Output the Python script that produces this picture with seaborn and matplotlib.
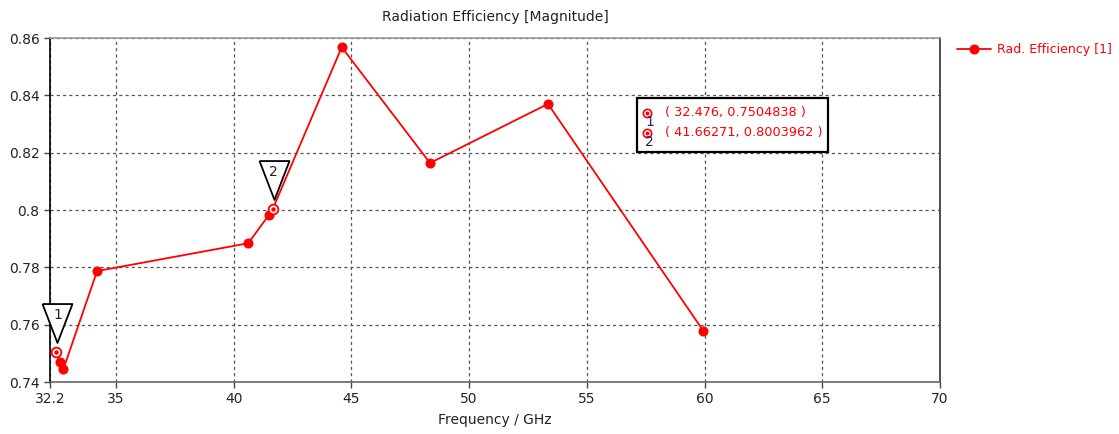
import numpy as np
import pandas as pd
import seaborn as sns
import matplotlib
matplotlib.use("Agg")
import matplotlib.pyplot as plt
from matplotlib import transforms
from matplotlib.patches import Rectangle

# data
freq = [32.476, 32.625, 32.765, 34.2, 40.62, 41.50, 41.66271, 44.59, 48.34, 53.35, 59.95]
eff = [0.7504838, 0.7471, 0.7444, 0.7787, 0.7884, 0.7983, 0.8003962, 0.8568, 0.8164, 0.8370, 0.7578]
series_name = "Rad. Efficiency [1]"

# markers placed on the curve (index into the arrays above)
marker_ids = [0, 6]
marker_labels = ["1", "2"]

xticks = [32.2, 35, 40, 45, 50, 55, 60, 65, 70]
xticklabels = ["32.2", "35", "40", "45", "50", "55", "60", "65", "70"]
yticks = [0.74, 0.76, 0.78, 0.80, 0.82, 0.84, 0.86]
yticklabels = ["0.74", "0.76", "0.78", "0.8", "0.82", "0.84", "0.86"]

sns.set_style("white")
plt.rcParams['font.family'] = ['DejaVu Sans']
plt.rcParams['font.size'] = 9

df = pd.DataFrame({'freq': freq, 'eff': eff})

fig = plt.figure(figsize=(11.19, 4.34), dpi=100)
ax = fig.add_axes([50 / 1119, 1 - 382 / 434, 890 / 1119, 344 / 434])

sns.lineplot(data=df, x='freq', y='eff', sort=False, estimator=None, ax=ax,
             color='red', lw=1.3, marker='o', markersize=6.5, markeredgecolor='red',
             label=series_name, zorder=3)

# marker symbols (open circle with dot)
mx = [freq[i] for i in marker_ids]
my = [eff[i] for i in marker_ids]
ax.plot(mx, my, ls='none', marker='o', ms=7, mfc='white', mec='red', mew=1.3, zorder=4)
ax.plot(mx, my, ls='none', marker='o', ms=2.2, color='red', zorder=5)

# triangle flags above markers
tri_tr = transforms.offset_copy(ax.transData, fig=fig, x=1, y=28.5, units='dots')
txt_tr = transforms.offset_copy(ax.transData, fig=fig, x=1, y=37, units='dots')
tri = [(-0.77, 1), (0.77, 1), (0, -1), (-0.77, 1)]
ax.plot(mx, my, ls='none', marker=tri, ms=28, mfc='white', mec='black', mew=1.3,
        transform=tri_tr, zorder=6, clip_on=False)
for x, y, lab in zip(mx, my, marker_labels):
    ax.text(x, y, lab, transform=txt_tr, ha='center', va='center', fontsize=10,
            color='#222222', zorder=7, clip_on=False)

# marker readout box
ax.add_patch(Rectangle((0.6596, 0.6686), 0.2146, 0.157, transform=ax.transAxes,
                       facecolor='white', edgecolor='black', lw=1.6, zorder=8))
for k, (i, lab) in enumerate(zip(marker_ids, marker_labels)):
    yy = 0.782 - k * 0.058
    ax.plot([0.671], [yy], transform=ax.transAxes, ls='none', marker='o', ms=6,
            mfc='white', mec='red', mew=1.2, zorder=9)
    ax.plot([0.671], [yy], transform=ax.transAxes, ls='none', marker='o', ms=1.8,
            color='red', zorder=10)
    ax.text(0.674, yy - 0.026, lab, transform=ax.transAxes, ha='center', va='center',
            fontsize=10, color='#1a2a6a', zorder=10)
    ax.text(0.691, yy, f"( {freq[i]}, {eff[i]:.7f} )",
            transform=ax.transAxes, ha='left', va='center', fontsize=9.3,
            color='red', zorder=10)

ax.set_xlim(32.2, 70)
ax.set_ylim(0.74, 0.86)
ax.set_xticks(xticks)
ax.set_xticklabels(xticklabels)
ax.set_yticks(yticks)
ax.set_yticklabels(yticklabels)
ax.tick_params(axis='both', direction='out', length=4, width=1, color='#444444',
               labelsize=10, labelcolor='#222233', bottom=True, left=True)
ax.grid(True, ls=(0, (2.5, 2.5)), color='#555555', lw=0.9)
for side in ['left', 'bottom', 'top', 'right']:
    ax.spines[side].set_visible(True)
ax.spines['left'].set_color('black')
ax.spines['bottom'].set_color('#666666')
ax.spines['top'].set_color('#999999')
ax.spines['right'].set_color('#333333')
for s in ax.spines.values():
    s.set_linewidth(1.2)

ax.set_xlabel("Frequency / GHz", fontsize=10, color='#222222', labelpad=5)
ax.set_ylabel("")
ax.set_title("Radiation Efficiency [Magnitude]", fontsize=10, color='#222222', pad=12)

leg = ax.legend(loc='upper left', bbox_to_anchor=(952 / 1119, 1 - 38 / 434),
                bbox_transform=fig.transFigure, frameon=False, fontsize=9,
                handlelength=2.7, handletextpad=0.5, borderaxespad=0)
for t in leg.get_texts():
    t.set_color('red')

fig.savefig('out.png', dpi=100)
